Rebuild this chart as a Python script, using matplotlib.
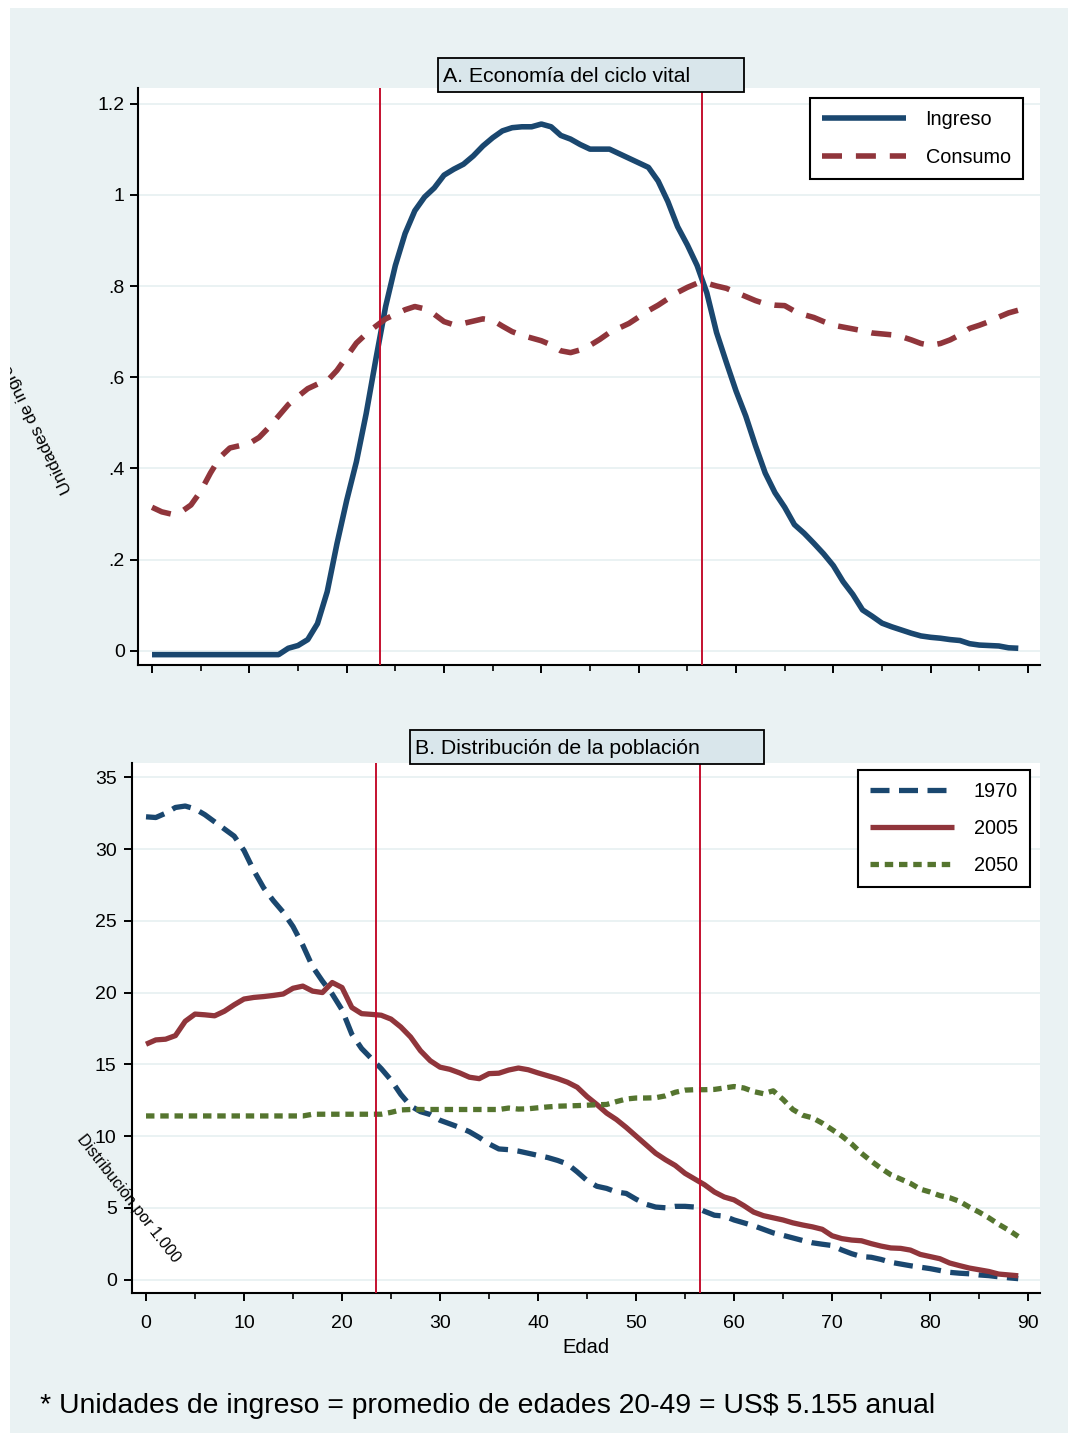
import numpy as np
import matplotlib.pyplot as plt
import matplotlib.transforms as mtrans
from matplotlib.patches import Rectangle
from matplotlib.ticker import MultipleLocator

plt.rcParams['font.family'] = ['Liberation Sans', 'DejaVu Sans']

W, H = 1078, 1439

# ---- datos (lectura del gráfico) ----
edad = np.arange(90)

ingreso = [
    -0.008, -0.008, -0.008, -0.008, -0.008, -0.008, -0.008, -0.008, -0.008, -0.008,
    -0.008, -0.008, -0.008, -0.008, 0.006, 0.012, 0.025, 0.060, 0.130, 0.235,
    0.330, 0.415, 0.520, 0.640, 0.755, 0.845, 0.915, 0.965, 0.995, 1.015,
    1.043, 1.056, 1.067, 1.085, 1.107, 1.125, 1.140, 1.147, 1.149, 1.149,
    1.155, 1.149, 1.130, 1.122, 1.110, 1.100, 1.100, 1.100, 1.090, 1.080,
    1.070, 1.060, 1.030, 0.985, 0.930, 0.890, 0.845, 0.785, 0.698, 0.633,
    0.570, 0.515, 0.450, 0.390, 0.347, 0.315, 0.277, 0.258, 0.236, 0.213,
    0.187, 0.152, 0.124, 0.090, 0.076, 0.061, 0.053, 0.046, 0.039, 0.033,
    0.030, 0.028, 0.025, 0.023, 0.016, 0.013, 0.012, 0.011, 0.007, 0.006,
]
consumo = [
    0.315, 0.305, 0.300, 0.305, 0.320, 0.350, 0.390, 0.425, 0.445, 0.450,
    0.455, 0.468, 0.490, 0.515, 0.540, 0.558, 0.575, 0.585, 0.592, 0.615,
    0.645, 0.675, 0.695, 0.712, 0.728, 0.738, 0.748, 0.755, 0.750, 0.738,
    0.722, 0.715, 0.718, 0.723, 0.728, 0.725, 0.712, 0.700, 0.692, 0.686,
    0.680, 0.671, 0.658, 0.654, 0.660, 0.670, 0.683, 0.698, 0.708, 0.718,
    0.732, 0.746, 0.758, 0.772, 0.786, 0.797, 0.806, 0.806, 0.800, 0.795,
    0.786, 0.777, 0.768, 0.761, 0.758, 0.757, 0.745, 0.737, 0.731, 0.722,
    0.714, 0.710, 0.706, 0.702, 0.697, 0.695, 0.693, 0.689, 0.682, 0.674,
    0.670, 0.674, 0.682, 0.693, 0.707, 0.714, 0.722, 0.732, 0.741, 0.747,
]
pob_1970 = [
    32.25, 32.2, 32.5, 32.9, 33.0, 32.8, 32.4, 31.9, 31.4, 30.9,
    29.9, 28.5, 27.3, 26.4, 25.6, 24.6, 23.3, 21.8, 20.8, 19.9,
    18.8, 17.1, 16.1, 15.4, 14.7, 13.9, 12.9, 12.1, 11.7, 11.5,
    11.1, 10.85, 10.6, 10.3, 9.9, 9.45, 9.1, 9.05, 8.95, 8.8,
    8.65, 8.5, 8.3, 8.05, 7.5, 6.9, 6.5, 6.35, 6.1, 6.0,
    5.6, 5.25, 5.05, 5.0, 5.1, 5.1, 5.05, 4.75, 4.48, 4.42,
    4.15, 3.95, 3.75, 3.5, 3.25, 3.08, 2.9, 2.72, 2.56, 2.46,
    2.37, 2.06, 1.8, 1.6, 1.55, 1.4, 1.2, 1.08, 0.96, 0.86,
    0.76, 0.63, 0.5, 0.44, 0.4, 0.32, 0.27, 0.19, 0.12, 0.06,
]
pob_2005 = [
    16.4, 16.7, 16.75, 17.0, 18.0, 18.5, 18.45, 18.38, 18.7, 19.15,
    19.55, 19.66, 19.72, 19.8, 19.9, 20.3, 20.45, 20.1, 20.0, 20.7,
    20.35, 18.96, 18.53, 18.48, 18.42, 18.15, 17.6, 16.9, 15.95, 15.25,
    14.8, 14.65, 14.4, 14.1, 14.0, 14.35, 14.38, 14.6, 14.74, 14.62,
    14.4, 14.2, 14.0, 13.75, 13.4, 12.75, 12.2, 11.6, 11.15, 10.6,
    10.0, 9.4, 8.8, 8.35, 7.95, 7.4, 7.0, 6.6, 6.1, 5.75,
    5.55, 5.15, 4.7, 4.45, 4.3, 4.15, 3.95, 3.8, 3.67, 3.5,
    3.05, 2.85, 2.75, 2.7, 2.5, 2.33, 2.2, 2.17, 2.05, 1.75,
    1.6, 1.45, 1.15, 0.97, 0.8, 0.68, 0.56, 0.38, 0.32, 0.26,
]
pob_2050 = [
    11.4, 11.4, 11.4, 11.4, 11.4, 11.4, 11.4, 11.4, 11.4, 11.4,
    11.4, 11.4, 11.4, 11.4, 11.4, 11.4, 11.4, 11.52, 11.52, 11.52,
    11.52, 11.52, 11.52, 11.52, 11.52, 11.65, 11.82, 11.85, 11.85, 11.85,
    11.85, 11.85, 11.85, 11.85, 11.85, 11.85, 11.85, 11.95, 11.88, 11.9,
    11.97, 12.03, 12.08, 12.1, 12.12, 12.15, 12.18, 12.2, 12.4, 12.58,
    12.65, 12.65, 12.67, 12.8, 13.05, 13.2, 13.23, 13.23, 13.25, 13.35,
    13.45, 13.35, 13.1, 12.95, 13.15, 12.55, 11.85, 11.45, 11.27, 10.9,
    10.45, 10.0, 9.45, 8.8, 8.25, 7.75, 7.3, 7.0, 6.7, 6.3,
    6.1, 5.85, 5.7, 5.45, 5.05, 4.7, 4.3, 3.85, 3.45, 3.0,
]
lineas_a = [23.4, 56.5]
lineas_b = [23.5, 56.5]

# ---- colores ----
FONDO = '#EAF2F3'
NAVY = '#1A476F'
MAROON = '#90353B'
VERDE = '#55752F'
ROJO = '#C4102F'
CAJA = '#D9E6EB'

fig = plt.figure(figsize=(W / 100, H / 100), dpi=100, facecolor='white')
# transformación en píxeles de la imagen (origen arriba-izquierda)
px = mtrans.Affine2D().scale(1 / W, -1 / H).translate(0, 1) + fig.transFigure

fig.patches.append(Rectangle((10, 8), 1058, 1425, transform=px,
                             facecolor=FONDO, edgecolor='none', zorder=-10))


def rect(l, t, r, b):
    return [l / W, 1 - b / H, (r - l) / W, (b - t) / H]


def estilo(ax, size=14):
    ax.set_facecolor('white')
    for s in ('top', 'right'):
        ax.spines[s].set_visible(False)
    for s in ('left', 'bottom'):
        ax.spines[s].set_linewidth(1.5)
    ax.yaxis.grid(True, color=FONDO, lw=1.4)
    ax.set_axisbelow(True)
    ax.xaxis.set_major_locator(MultipleLocator(10))
    ax.xaxis.set_minor_locator(MultipleLocator(5))
    ax.tick_params(which='major', length=6, width=1.4, labelsize=size)
    ax.tick_params(which='minor', axis='x', length=4, width=1.2)


def leyenda(ax, l, t, l_ax, t_ax, r_ax, b_ax, spacing):
    # esquina superior izquierda del recuadro, en píxeles de la imagen
    x = (l - l_ax) / (r_ax - l_ax)
    y = (b_ax - t) / (b_ax - t_ax)
    leg = ax.legend(loc='upper left', bbox_to_anchor=(x, y), borderaxespad=0,
                    fancybox=False, edgecolor='black', framealpha=1, fontsize=14.3,
                    handlelength=4.2, handletextpad=1.0, labelspacing=spacing,
                    borderpad=0.62)
    leg.get_frame().set_linewidth(1.5)
    return leg


# ---- Panel A ----
axA = fig.add_axes(rect(138, 88, 1040, 665))
estilo(axA)
axA.plot(edad, ingreso, color=NAVY, lw=4, label='Ingreso', solid_capstyle='butt')
axA.plot(edad, consumo, color=MAROON, lw=4, dashes=(3.6, 2.5), label='Consumo')
for x in lineas_a:
    axA.axvline(x, color=ROJO, lw=1.4, zorder=5)
axA.set_xlim(-1.44, 91.23)
axA.set_ylim(-0.0307, 1.234)
axA.set_yticks([0, 0.2, 0.4, 0.6, 0.8, 1.0, 1.2])
axA.set_yticklabels(['0', '.2', '.4', '.6', '.8', '1', '1.2'])
axA.tick_params(axis='x', labelbottom=False)
axA.tick_params(axis='y', pad=3.5)
leyenda(axA, 810, 98, 138, 88, 1040, 665, 0.95)

# ---- Panel B ----
axB = fig.add_axes(rect(132, 763, 1040, 1293))
estilo(axB)
axB.plot(edad, pob_1970, color=NAVY, lw=3.8, dashes=(3.6, 1.8), label='1970')
axB.plot(edad, pob_2005, color=MAROON, lw=3.8, label='2005', solid_capstyle='butt')
axB.plot(edad, pob_2050, color=VERDE, lw=3.8, dashes=(1.6, 1.1), label='2050')
for x in lineas_b:
    axB.axvline(x, color=ROJO, lw=1.4, zorder=5)
axB.set_xlim(-1.43, 91.22)
axB.set_ylim(-0.94, 36.0)
axB.set_yticks(range(0, 36, 5))
axB.tick_params(axis='y', pad=5)
axB.tick_params(axis='x', pad=10)
axB.set_xlabel('Edad', fontsize=14.5, labelpad=4)
leyenda(axB, 858, 770, 132, 763, 1040, 1293, 0.9)

# ---- cajas de título ----
for (l, t, r, b), txt in [((438, 58, 744, 92), 'A. Economía del ciclo vital'),
                          ((410, 730, 764, 764), 'B. Distribución de la población')]:
    fig.patches.append(Rectangle((l, t), r - l, b - t, transform=px, facecolor=CAJA,
                                 edgecolor='black', lw=1.3, zorder=5))
    fig.text(l + 5, (t + b) / 2 + 1, txt, transform=px, fontsize=15.3,
             ha='left', va='center', zorder=6)

# ---- títulos de eje girados (recortados por el borde, como en el original) ----
clip = mtrans.TransformedBbox(
    mtrans.Bbox.from_extents(10 / W, 1 - 1433 / H, 1068 / W, 1 - 8 / H), fig.transFigure)
t1 = fig.text(72, 490, 'Unidades de ingreso*', transform=px, fontsize=12.5,
              rotation=116, rotation_mode='anchor', ha='left', va='baseline')
t2 = fig.text(76, 1139, 'Distribución por 1.000', transform=px, fontsize=11.6,
              rotation=-52, rotation_mode='anchor', ha='left', va='baseline')
for t in (t1, t2):
    t.set_clip_box(clip)
    t.set_clip_on(True)

fig.text(40, 1413, '* Unidades de ingreso = promedio de edades 20-49 = US$ 5.155 anual',
         transform=px, fontsize=20.45, ha='left', va='baseline')

fig.savefig('out.png', dpi=100, facecolor='white')
